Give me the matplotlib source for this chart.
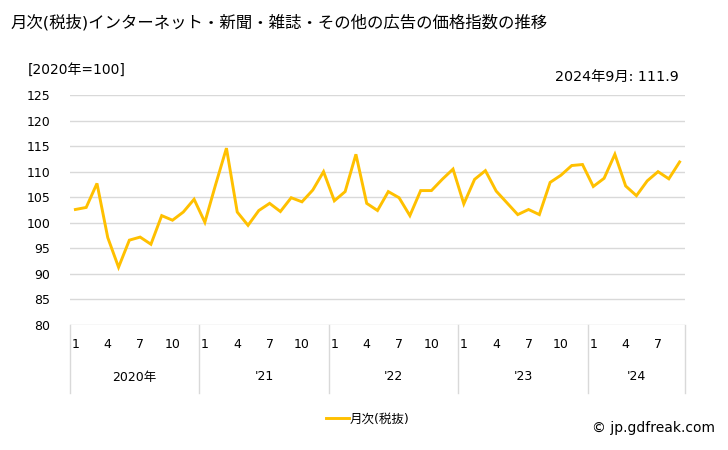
import numpy as np
import matplotlib
matplotlib.use("Agg")
import matplotlib.pyplot as plt

plt.rcParams['font.family'] = ['DejaVu Sans', 'Noto Sans CJK JP']

# monthly values, Jan 2020 - Sep 2024
values_2020 = [102.6, 103.0, 107.7, 97.1, 91.3, 96.6, 97.2, 95.8, 101.4, 100.5, 102.1, 104.6]
values_2021 = [100.1, 107.5, 114.6, 102.1, 99.5, 102.4, 103.8, 102.2, 104.9, 104.1, 106.4, 110.0]
values_2022 = [104.3, 106.1, 113.4, 103.8, 102.4, 106.1, 104.9, 101.4, 106.3, 106.3, 108.5, 110.5]
values_2023 = [103.7, 108.5, 110.2, 106.2, 103.9, 101.6, 102.6, 101.6, 107.9, 109.3, 111.2, 111.4]
values_2024 = [107.1, 108.7, 113.4, 107.2, 105.3, 108.2, 110.0, 108.6, 111.9]
year_labels = ['2020年', "'21", "'22", "'23", "'24"]
month_ticks = [1, 4, 7, 10]

values = values_2020 + values_2021 + values_2022 + values_2023 + values_2024
years = [values_2020, values_2021, values_2022, values_2023, values_2024]

fig = plt.figure(figsize=(7.28, 4.5), dpi=100)
ax = fig.add_axes([70 / 728, 1 - 325 / 450, 615 / 728, 230 / 450])

x = np.arange(len(values))
ax.plot(x, values, color='#FFC000', lw=2.1, solid_joinstyle='miter', label='月次(税抜)')

ax.set_xlim(-0.5, len(values) - 0.5)
ax.set_ylim(80, 125)
ax.set_yticks(range(80, 126, 5))
ax.grid(axis='y', color='#d9d9d9', lw=1)
ax.set_axisbelow(True)
for s in ax.spines.values():
    s.set_visible(False)
ax.tick_params(axis='y', length=0, labelsize=9, pad=14)
ax.tick_params(axis='x', length=0, labelbottom=False)

# category axis below the plot
tr = ax.get_xaxis_transform()
sep_bottom = -(393 - 325) / 230
start = 0
for vals, lab in zip(years, year_labels):
    ax.plot([start - 0.5, start - 0.5], [0, sep_bottom], transform=tr,
            color='#d9d9d9', lw=1, clip_on=False)
    for m in month_ticks:
        if m <= len(vals):
            ax.text(start + m - 1, -(344 - 325) / 230, str(m), transform=tr,
                    ha='center', va='center', fontsize=9)
    ax.text(start + (len(vals) - 1) / 2, -(377 - 325) / 230, lab, transform=tr,
            ha='center', va='center', fontsize=9)
    start += len(vals)
ax.plot([start - 0.5, start - 0.5], [0, sep_bottom], transform=tr,
        color='#d9d9d9', lw=1, clip_on=False)

fig.text(11 / 728, 1 - 22 / 450, '月次(税抜)インターネット・新聞・雑誌・その他の広告の価格指数の推移',
         fontsize=11.8, ha='left', va='center')
fig.text(28 / 728, 1 - 70 / 450, '[2020年=100]', fontsize=10, ha='left', va='center')
fig.text(679 / 728, 1 - 77 / 450, '2024年9月: 111.9', fontsize=10.3, ha='right', va='center')

ax.legend(loc='center', bbox_to_anchor=(368 / 728, 1 - 419 / 450), bbox_transform=fig.transFigure,
          frameon=False, fontsize=9, handlelength=1.8, handletextpad=0.1)
fig.text(715 / 728, 1 - 428 / 450, '© jp.gdfreak.com', fontsize=10, ha='right', va='center')

fig.savefig('out.png', dpi=100)
